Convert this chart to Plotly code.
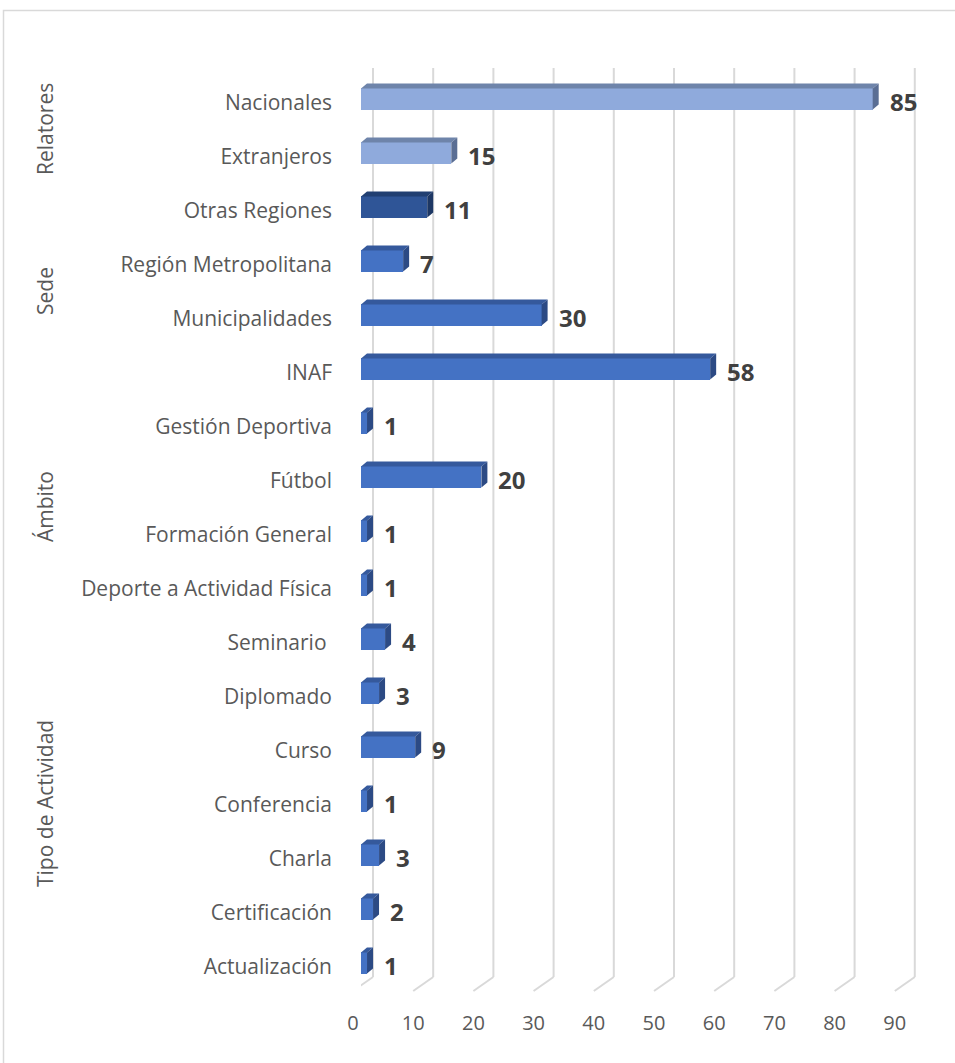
import plotly.graph_objects as go

# ---------------- data ----------------
categories = ["Actualización", "Certificación", "Charla", "Conferencia", "Curso",
              "Diplomado", "Seminario\u00a0", "Deporte a Actividad Física",
              "Formación General", "Fútbol", "Gestión Deportiva", "INAF",
              "Municipalidades", "Región Metropolitana", "Otras Regiones",
              "Extranjeros", "Nacionales"]
values = [1, 2, 3, 1, 9, 3, 4, 1, 1, 20, 1, 58, 30, 7, 11, 15, 85]
shade = ["mid"] * 14 + ["dark", "light", "light"]
groups = [("Tipo de Actividad", 0, 6), ("Ámbito", 7, 10), ("Sede", 11, 14), ("Relatores", 15, 16)]
x_ticks = [0, 10, 20, 30, 40, 50, 60, 70, 80, 90]

# ---------------- style ----------------
palette = {
    "light": ("#8FAADC", "#6E84AA", "#5A6E94"),
    "mid": ("#4472C4", "#35599C", "#2C4A84"),
    "dark": ("#2F5597", "#213F72", "#1D3764"),
}
W, H = 955, 1063
ML, MT = 361, 68
PW, PH = 574, 923
MR, MB = W - ML - PW, H - MT - PH
XMAX = 95.35
Y0, Y1 = -0.5185, 16.574
BAR_W = 0.39
DX = 6 / (PW / XMAX)          # depth offset in data units (x)
DY = 5 / (PH / (Y1 - Y0))     # depth offset in data units (y)
FONT = "Open Sans"
TXT = "#595959"
GRID = "#D9D9D9"

ypos = list(range(len(categories)))

fig = go.Figure()
fig.add_trace(go.Bar(
    x=values, y=ypos, orientation="h", width=BAR_W,
    marker=dict(color=[palette[s][0] for s in shade], line=dict(width=0)),
    hoverinfo="x+y", showlegend=False,
))

shapes = []
# back-wall gridlines and floor diagonals
for v in x_ticks:
    shapes.append(dict(type="line", layer="below", xref="x", xsizemode="pixel", xanchor=v,
                       x0=12, x1=12, yref="paper", ysizemode="pixel", yanchor=0,
                       y0=14, y1=PH, line=dict(color=GRID, width=2)))
    shapes.append(dict(type="line", layer="below", xref="x", xsizemode="pixel", xanchor=v,
                       x0=12, x1=-8, yref="paper", ysizemode="pixel", yanchor=0,
                       y0=14, y1=0, line=dict(color=GRID, width=2)))

# 3D faces of the bars
for y, v, s in zip(ypos, values, shade):
    _, top_c, side_c = palette[s]
    yt, yb = y + BAR_W / 2, y - BAR_W / 2
    top = f"M 0 {yt} L {v} {yt} L {v + DX} {yt + DY} L {DX} {yt + DY} Z"
    side = f"M {v} {yb} L {v} {yt} L {v + DX} {yt + DY} L {v + DX} {yb + DY} Z"
    shapes.append(dict(type="path", path=top, xref="x", yref="y", layer="above",
                       fillcolor=top_c, line=dict(width=0)))
    shapes.append(dict(type="path", path=side, xref="x", yref="y", layer="above",
                       fillcolor=side_c, line=dict(width=0)))

# outer chart border (left + top visible)
shapes.append(dict(type="rect", xref="paper", yref="paper",
                   x0=(3.5 - ML) / PW, x1=(990 - ML) / PW,
                   y0=(H - MB - 1100) / PH, y1=(H - MB - 10.5) / PH,
                   line=dict(color=GRID, width=1.5), fillcolor="rgba(0,0,0,0)", layer="below"))

annotations = []
for y, v in zip(ypos, values):
    annotations.append(dict(x=v, y=y, xref="x", yref="y", text=f"<b>{v}</b>",
                            showarrow=False, xanchor="left", yanchor="middle",
                            xshift=15, yshift=-2,
                            font=dict(family=FONT, size=24, color="#404040")))
for name, a, b in groups:
    annotations.append(dict(x=(45 - ML) / PW, xref="paper", y=(a + b) / 2, yref="y",
                            text=name, textangle=-90, showarrow=False,
                            xanchor="center", yanchor="middle", yshift=-3,
                            font=dict(family=FONT, size=21, color=TXT)))

fig.update_layout(
    width=W, height=H,
    margin=dict(l=ML, r=MR, t=MT, b=MB),
    paper_bgcolor="white", plot_bgcolor="white",
    shapes=shapes, annotations=annotations,
    bargap=0, showlegend=False,
    font=dict(family=FONT, color=TXT),
    xaxis=dict(range=[0, XMAX], tickvals=x_ticks, showgrid=False, zeroline=False,
               showline=False, ticks="", ticklabelshift=-8, ticklabelstandoff=18,
               tickfont=dict(family=FONT, size=20, color=TXT)),
    yaxis=dict(range=[Y0, Y1], tickvals=ypos, ticktext=categories, showgrid=False,
               zeroline=False, showline=False, ticks="", ticklabelstandoff=28,
               ticklabelshift=4,
               tickfont=dict(family=FONT, size=21, color=TXT)),
)

fig.write_html("out.html", config={"displayModeBar": False},
               post_script="document.body.style.margin='0';")
